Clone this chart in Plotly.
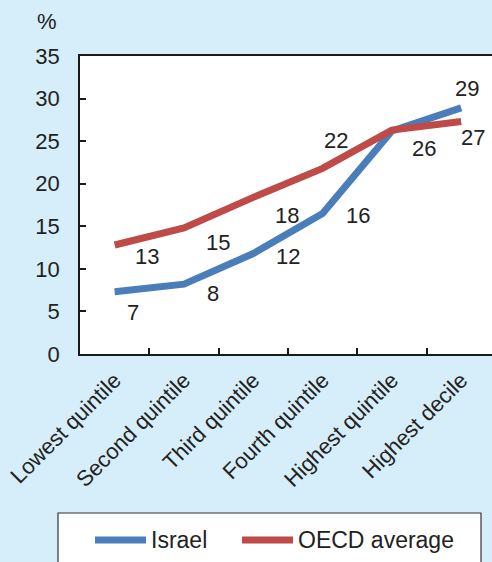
import plotly.graph_objects as go

categories = ["Lowest quintile", "Second quintile", "Third quintile",
              "Fourth quintile", "Highest quintile", "Highest decile"]
israel = [7.3, 8.2, 11.8, 16.5, 26.2, 28.9]
oecd = [12.8, 14.8, 18.4, 21.8, 26.3, 27.3]
israel_labels = ["7", "8", "12", "16", "26", "29"]
oecd_labels = ["13", "15", "18", "22", "", "27"]
series_names = ["Israel", "OECD average"]

BLUE = "#4a7ebb"
RED = "#be4b48"
BG = "#d6eef9"
TXT = "#222222"
FONT = "Liberation Sans, Arial, sans-serif"
FS = 22

fig = go.Figure()
fig.add_trace(go.Scatter(x=categories, y=israel, mode="lines", name=series_names[0],
                         line=dict(color=BLUE, width=7), showlegend=False))
fig.add_trace(go.Scatter(x=categories, y=oecd, mode="lines", name=series_names[1],
                         line=dict(color=RED, width=7), showlegend=False))

# data label offsets (px) relative to the points
isr_off = [(18, -21), (29, -9), (35, -3), (35, -2), (32, -18), (6, 19)]
oecd_off = [(32, -11), (34, -15), (34, -18), (13, 28), (0, 0), (12, -16)]
for cat, v, lab, (dx, dy) in zip(categories, israel, israel_labels, isr_off):
    fig.add_annotation(x=cat, y=v, text=lab, showarrow=False, xshift=dx, yshift=dy,
                       font=dict(size=FS, color=TXT, family=FONT))
for cat, v, lab, (dx, dy) in zip(categories, oecd, oecd_labels, oecd_off):
    if lab:
        fig.add_annotation(x=cat, y=v, text=lab, showarrow=False, xshift=dx, yshift=dy,
                           font=dict(size=FS, color=TXT, family=FONT))

def px(xp):
    return (xp - 80) / 412

def py(yp):
    return (354 - yp) / 298

fig.add_annotation(xref="paper", yref="paper", x=px(47), y=py(21), xanchor="center",
                   yanchor="middle", text="%", showarrow=False,
                   font=dict(size=FS, color=TXT, family=FONT))

# legend frame and entries
fig.add_shape(type="rect", xref="paper", yref="paper",
              x0=px(58), x1=px(481), y0=py(513), y1=py(580),
              line=dict(color="#333333", width=1.2), fillcolor="white", layer="below")
for (x0, x1, tx), col, name in zip([(95, 146, 149), (242, 293, 296)], [BLUE, RED],
                                   series_names):
    fig.add_shape(type="line", xref="paper", yref="paper", x0=px(x0), x1=px(x1),
                  y0=py(540), y1=py(540), line=dict(color=col, width=7))
    fig.add_annotation(xref="paper", yref="paper", x=px(tx), y=py(540), xanchor="left",
                       yanchor="middle", text=name, showarrow=False,
                       font=dict(size=23, color=TXT, family=FONT))

fig.update_layout(
    width=492, height=562,
    margin=dict(l=80, r=0, t=56, b=208),
    paper_bgcolor=BG, plot_bgcolor="white",
    font=dict(family=FONT, size=FS, color=TXT),
    showlegend=False,
)
fig.update_xaxes(type="category", range=[-0.5, 5.445], tickson="boundaries",
                 ticks="inside", ticklen=6, tickcolor="#1a1a1a", tickwidth=1.5,
                 showline=True, linecolor="#1a1a1a", linewidth=1.5, mirror=True,
                 showgrid=False, tickangle=-45, ticklabelstandoff=3,
                 tickfont=dict(size=FS, color=TXT, family=FONT))
fig.update_yaxes(range=[0, 35], dtick=5, ticks="inside", ticklen=6,
                 tickcolor="#1a1a1a", tickwidth=1.5, showline=True,
                 linecolor="#1a1a1a", linewidth=1.5, showgrid=False, zeroline=False,
                 ticklabelstandoff=14, tickfont=dict(size=FS, color=TXT, family=FONT))

fig.write_html("out.html")
